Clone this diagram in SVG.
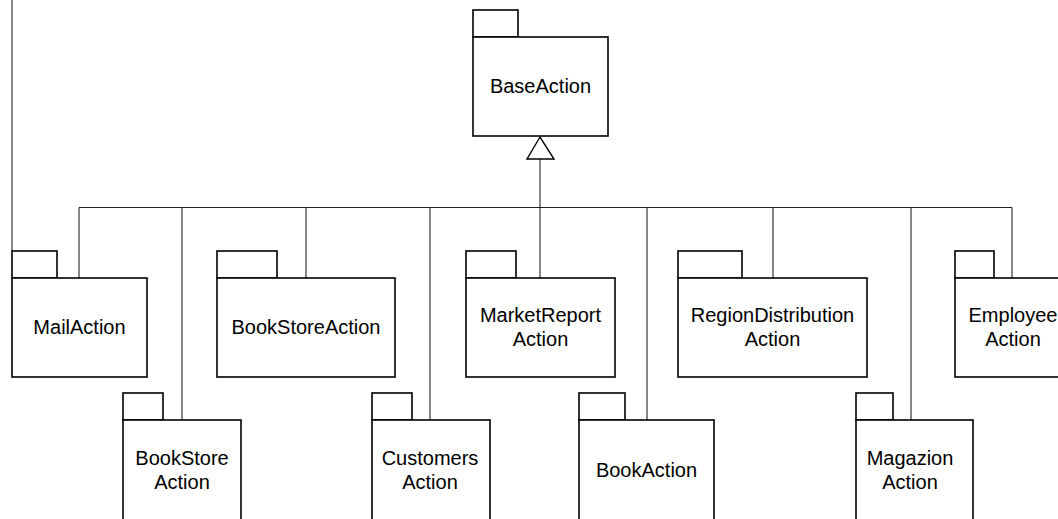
<svg xmlns="http://www.w3.org/2000/svg" width="1058" height="519" viewBox="0 0 1058 519">
  <style>
    .pkg rect { fill: #ffffff; stroke: #000000; stroke-width: 1.6; }
    .lbl { font-family: "Liberation Sans", Arial, sans-serif; font-size: 20px; fill: #000000; text-anchor: middle; }
    .conn line, .conn polyline { stroke: #222222; stroke-width: 1.1; fill: none; }
    .gen { fill: #ffffff; stroke: #000000; stroke-width: 1.4; }
  </style>
  <rect width="1058" height="519" fill="#ffffff"/>

  <!-- connectors: generalization tree to BaseAction -->
  <g id="connectors" class="conn">
    <line x1="12" y1="0" x2="12" y2="251"/>
    <line x1="79" y1="207.5" x2="1012" y2="207.5"/>
    <line x1="540" y1="159" x2="540" y2="278"/>
    <line x1="79" y1="207.5" x2="79" y2="278"/>
    <line x1="182" y1="207.5" x2="182" y2="420"/>
    <line x1="306" y1="207.5" x2="306" y2="278"/>
    <line x1="430" y1="207.5" x2="430" y2="420"/>
    <line x1="647" y1="207.5" x2="647" y2="420"/>
    <line x1="773" y1="207.5" x2="773" y2="278"/>
    <line x1="911" y1="207.5" x2="911" y2="420"/>
    <line x1="1012" y1="207.5" x2="1012" y2="278"/>
    <polygon class="gen" points="540,137 527,159 554,159"/>
  </g>

  <g id="BaseAction" class="pkg">
    <rect x="473" y="10" width="45" height="27"/>
    <rect x="473" y="37" width="135" height="99"/>
    <text class="lbl" x="540.5" y="93">BaseAction</text>
  </g>

  <!-- upper row -->
  <g id="MailAction" class="pkg">
    <rect x="12" y="251" width="45" height="27"/>
    <rect x="12" y="278" width="135" height="99"/>
    <text class="lbl" x="79.5" y="334">MailAction</text>
  </g>
  <g id="BookStoreAction" class="pkg">
    <rect x="217" y="251" width="60" height="27"/>
    <rect x="217" y="278" width="178" height="99"/>
    <text class="lbl" x="306" y="334">BookStoreAction</text>
  </g>
  <g id="MarketReportAction" class="pkg">
    <rect x="466" y="251" width="50" height="27"/>
    <rect x="466" y="278" width="149" height="99"/>
    <text class="lbl" x="540.5" y="322">MarketReport</text>
    <text class="lbl" x="540.5" y="346">Action</text>
  </g>
  <g id="RegionDistributionAction" class="pkg">
    <rect x="678" y="251" width="64" height="27"/>
    <rect x="678" y="278" width="189" height="99"/>
    <text class="lbl" x="772.5" y="322">RegionDistribution</text>
    <text class="lbl" x="772.5" y="346">Action</text>
  </g>
  <g id="EmployeeAction" class="pkg">
    <rect x="955" y="251" width="39" height="27"/>
    <rect x="955" y="278" width="120" height="99"/>
    <text class="lbl" x="1013" y="322">Employee</text>
    <text class="lbl" x="1013" y="346">Action</text>
  </g>

  <!-- lower row -->
  <g id="BookStoreAction2" class="pkg">
    <rect x="123" y="393" width="40" height="27"/>
    <rect x="123" y="420" width="118" height="120"/>
    <text class="lbl" x="182" y="465">BookStore</text>
    <text class="lbl" x="182" y="489">Action</text>
  </g>
  <g id="CustomersAction" class="pkg">
    <rect x="372" y="393" width="40" height="27"/>
    <rect x="372" y="420" width="118" height="120"/>
    <text class="lbl" x="430" y="465">Customers</text>
    <text class="lbl" x="430" y="489">Action</text>
  </g>
  <g id="BookAction" class="pkg">
    <rect x="579" y="393" width="46" height="27"/>
    <rect x="579" y="420" width="135" height="120"/>
    <text class="lbl" x="646.5" y="477">BookAction</text>
  </g>
  <g id="MagazionAction" class="pkg">
    <rect x="856" y="393" width="37" height="27"/>
    <rect x="856" y="420" width="117" height="120"/>
    <text class="lbl" x="910" y="465">Magazion</text>
    <text class="lbl" x="910" y="489">Action</text>
  </g>
</svg>
